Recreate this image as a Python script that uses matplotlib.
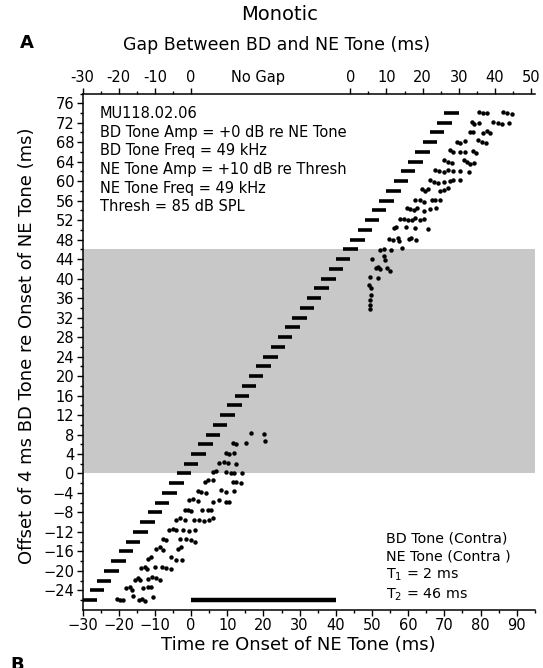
import numpy as np
import matplotlib
matplotlib.use('Agg')
import matplotlib.pyplot as plt

# BD tone offsets (ms re NE onset), 4 ms long tones
bd_offsets = np.arange(-26, 75, 2)
bd_dur = 4
ne_on, ne_off = 0, 40
ne_row = -26
band_lo, band_hi = 0, 46

# spike times (ms) and the row they were plotted at (ms)
spike_t = [-20.5, -19.7, -18.8, -16.1, -14.4, -13.5, -12.8, -10.4,
           -17.9, -17.0, -16.2, -13.3, -11.9, -11.0,
           -15.6, -14.7, -14.0, -11.9, -10.7, -9.6, -8.7,
           -13.8, -12.8, -12.2, -10.1, -8.0, -6.9, -5.5,
           -11.9, -11.0, -5.5, -4.1, -2.5,
           -9.6, -8.7, -7.8, -3.7, -2.8,
           -7.8, -6.9, -3.2, -1.4, 0.0, 1.2,
           -6.0, -4.9, -4.1, -2.3, -0.5, 1.2,
           -4.1, -3.2, -1.8, 0.9, 2.3, 3.7, 5.0, 6.1,
           -1.8, -0.9, 0.0, 3.0, 4.6, 5.5,
           -0.5, 0.5, 1.8, 6.0, 7.8, 9.6, 10.6,
           1.8, 2.8, 4.1, 8.3, 9.6, 11.9,
           3.9, 4.6, 6.0, 11.5, 12.4, 13.8,
           6.0, 6.9, 9.6, 11.0, 11.9, 14.2,
           7.8, 9.2, 10.1, 12.4,
           9.6, 10.6, 11.9,
           11.5, 12.4, 15.1,
           16.5, 20.2, 20.5,
           49.4, 49.4, 49.4, 49.6, 49.6, 49.1, 49.4, 51.6,
           51.2, 51.6, 52.3, 54.2, 54.9,
           50.0, 53.4, 53.7,
           52.3, 53.4, 55.3, 58.3,
           54.6, 55.8, 57.1, 57.4, 60.1, 60.8, 62.2,
           56.0, 56.7, 59.5, 62.0, 65.4,
           57.7, 58.8, 59.9, 61.1, 62.0, 63.3, 64.4,
           59.7, 60.6, 61.5, 62.4, 64.3, 66.1, 67.8,
           62.0, 63.3, 64.3, 66.6, 67.5, 68.9,
           63.8, 64.7, 65.6, 68.7, 69.8, 71.1,
           65.9, 67.0, 68.1, 69.8, 71.6, 72.5, 74.2,
           67.5, 68.4, 69.8, 71.1, 72.5, 74.4, 76.7,
           70.0, 71.1, 72.1, 75.3, 76.2, 77.1, 78.2,
           71.6, 72.5, 74.2, 75.7, 78.0, 78.8,
           73.6, 74.4, 75.7, 79.4, 80.3, 81.5,
           77.1, 77.8, 80.6, 81.7, 82.6,
           77.6, 78.2, 79.7, 83.5, 84.9, 85.8, 87.9,
           79.7, 80.8, 81.7, 86.3, 87.4, 88.6]
spike_y = [-25.7, -26.0, -26.0, -25.2, -26.0, -25.7, -26.2, -25.3,
           -23.6, -23.3, -24.0, -23.6, -23.3, -23.4,
           -21.8, -21.4, -21.9, -21.6, -21.2, -21.4, -21.8,
           -19.5, -19.2, -19.7, -19.2, -19.2, -19.5, -19.7,
           -17.5, -17.1, -17.1, -17.8, -17.8,
           -15.4, -15.1, -15.8, -15.4, -15.1,
           -13.4, -13.7, -13.4, -13.4, -13.6, -14.0,
           -11.5, -11.3, -11.5, -11.6, -11.8, -11.6,
           -9.6, -9.2, -9.6, -9.5, -9.6, -9.7, -9.5, -9.2,
           -7.5, -7.5, -7.7, -7.5, -7.4, -7.5,
           -5.5, -5.3, -5.6, -5.8, -5.5, -5.8, -5.8,
           -3.6, -3.8, -4.0, -3.4, -3.8, -3.6,
           -1.7, -1.4, -1.4, -1.7, -1.7, -1.9,
           0.3, 0.5, 0.3, 0.1, 0.0, 0.0,
           2.2, 2.4, 2.1, 1.9,
           4.3, 4.0, 4.2,
           6.3, 6.0, 6.3,
           8.4, 8.1, 6.7,
           33.8, 34.5, 35.7, 36.6, 38.0, 38.6, 40.3, 40.2,
           42.1, 42.4, 41.9, 42.1, 41.6,
           44.1, 44.6, 43.8,
           45.8, 46.0, 45.8, 46.2,
           48.2, 48.0, 48.4, 47.7, 48.2, 48.4, 47.9,
           50.3, 50.5, 50.6, 50.3, 50.1,
           52.3, 52.3, 52.0, 52.1, 52.5, 52.0, 52.3,
           54.4, 54.2, 54.0, 54.4, 53.9, 54.2, 54.4,
           56.1, 56.2, 55.8, 56.2, 56.1, 56.2,
           58.3, 58.0, 58.3, 58.0, 58.2, 58.7,
           60.3, 59.9, 59.7, 59.9, 60.1, 60.2, 60.3,
           62.3, 62.1, 61.9, 62.3, 62.1, 62.1, 61.9,
           64.3, 64.0, 63.8, 64.3, 64.0, 63.6, 63.8,
           66.4, 66.0, 66.0, 66.0, 66.2, 65.8,
           68.1, 67.9, 68.3, 68.4, 68.1, 67.9,
           70.1, 70.0, 69.8, 70.3, 69.8,
           72.2, 71.7, 71.9, 72.2, 72.0, 71.7, 72.0,
           74.3, 74.1, 73.9, 74.3, 73.9, 73.8]

top_pos = [-30, -20, -10, 0, 44, 54, 64, 74, 84, 94]
top_labels = ['-30', '-20', '-10', '0', '0', '10', '20', '30', '40', '50']
top_minor = [-25, -15, -5, 49, 59, 69, 79, 89]

info = ['MU118.02.06', 'BD Tone Amp = +0 dB re NE Tone', 'BD Tone Freq = 49 kHz',
        'NE Tone Amp = +10 dB re Thresh', 'NE Tone Freq = 49 kHz', 'Thresh = 85 dB SPL']
info2 = ['BD Tone (Contra)', 'NE Tone (Contra )', 'T$_{1}$ = 2 ms', 'T$_{2}$ = 46 ms']

fig = plt.figure(figsize=(5.43, 6.68), dpi=100)
ax = fig.add_axes([0.152, 0.087, 0.833, 0.773])

ax.axhspan(band_lo, band_hi, color='#c8c8c8', lw=0, zorder=0)
ax.hlines(bd_offsets, bd_offsets - bd_dur, bd_offsets, color='k', lw=2.6, zorder=2)
ax.hlines(ne_row, ne_on, ne_off, color='k', lw=3.2, zorder=2)
ax.plot(spike_t, spike_y, 'o', color='k', ms=3.2, mec='none', zorder=3)

ax.set_xlim(-30, 95)
ax.set_ylim(-28, 78)
ax.set_xticks(np.arange(-30, 91, 10))
ax.set_xticks(np.arange(-25, 96, 5), minor=True)
ax.set_yticks(np.arange(-24, 77, 4))
ax.set_yticks(np.arange(-26, 79, 2), minor=True)
ax.tick_params(which='major', direction='out', length=4.5, width=1, labelsize=10.5, pad=1.5)
ax.tick_params(which='minor', direction='out', length=2.5, width=1)
ax.spines['right'].set_visible(False)
ax.spines['top'].set_visible(False)
for s in ['left', 'bottom']:
    ax.spines[s].set_linewidth(1.1)

top = ax.twiny()
top.set_xlim(ax.get_xlim())
top.set_xticks(top_pos)
top.set_xticklabels(top_labels)
top.set_xticks(top_minor, minor=True)
top.tick_params(which='major', direction='out', length=4.5, width=1, labelsize=10.5, pad=1.5)
top.tick_params(which='minor', direction='out', length=2.5, width=1)
for s in ['left', 'right', 'bottom']:
    top.spines[s].set_visible(False)
top.spines['top'].set_linewidth(1.1)
top.annotate('No Gap', xy=(18.5, 1), xycoords=('data', 'axes fraction'),
             xytext=(0, 6), textcoords='offset points', ha='center', va='bottom', fontsize=10.5)

ax.text(-25.2, 75.4, '\n'.join(info), fontsize=10.5, va='top', ha='left', linespacing=1.3)
ax.text(54.0, -26.6, '\n'.join(info2), fontsize=10.3, va='bottom', ha='left', linespacing=1.3)

fig.text(0.515, 0.978, 'Monotic', fontsize=14, ha='center', va='center')
fig.text(0.037, 0.936, 'A', fontsize=13, fontweight='bold', ha='left', va='center')
fig.text(0.51, 0.933, 'Gap Between BD and NE Tone (ms)', fontsize=12.5, ha='center', va='center')
fig.text(0.55, 0.034, 'Time re Onset of NE Tone (ms)', fontsize=13, ha='center', va='center')
fig.text(0.05, 0.483, 'Offset of 4 ms BD Tone re Onset of NE Tone (ms)', fontsize=13,
         rotation=90, ha='center', va='center')
fig.text(0.02, 0.018, 'B', fontsize=13, fontweight='bold', ha='left', va='top')

fig.savefig('out.png', dpi=100)
